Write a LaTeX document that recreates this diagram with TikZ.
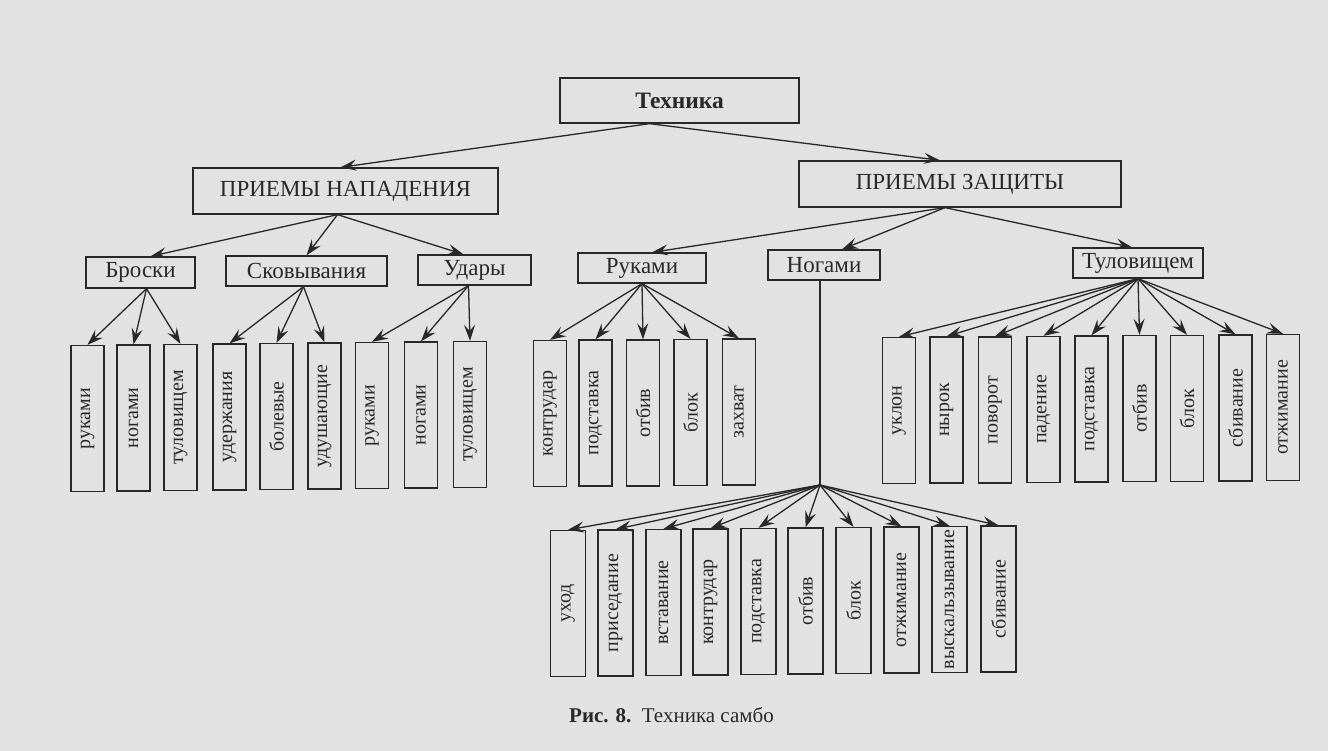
\documentclass[tikz,border=0pt]{standalone}
\usepackage{fontspec}
\setmainfont{Liberation Serif}
\usetikzlibrary{arrows.meta}
\definecolor{paper}{RGB}{226,226,226}
\definecolor{ink}{RGB}{40,40,40}
\tikzset{
  box/.style={draw=ink, line width=1.3pt, rectangle, inner sep=0pt, fill=paper, text=ink},
  topbox/.style={box, font=\fontsize{23.5}{26}\selectfont\bfseries},
  midbox/.style={box, font=\fontsize{23}{26}\selectfont},
  subbox/.style={box, font=\fontsize{23}{26}\selectfont},
  leafbox/.style={box, minimum width=33pt, minimum height=146pt, font=\fontsize{20}{23}\selectfont},
  arr/.style={draw=ink, line width=1.3pt, -{Stealth[length=16pt,width=11pt,inset=6pt]}},
  ln/.style={draw=ink, line width=1.3pt}
}
\begin{document}
\begin{tikzpicture}[x=1pt,y=-1pt]
\useasboundingbox (0,0) rectangle (1328,751);
\fill[paper] (0,0) rectangle (1328,751);

% top
\node[topbox, minimum width=239pt, minimum height=45pt] (tech) at (679.5,100.5) {Техника};
\node[midbox, minimum width=305pt, minimum height=46pt] (nap) at (345.5,191) {ПРИЕМЫ НАПАДЕНИЯ};
\node[midbox, minimum width=322pt, minimum height=46pt] (zas) at (960,184) {ПРИЕМЫ ЗАЩИТЫ};

% level 3
\node[subbox, minimum width=109pt, minimum height=31pt] (bro) at (140.5,272.5) {Броски};
\node[subbox, minimum width=161pt, minimum height=30pt] (sko) at (306.5,271) {Сковывания};
\node[subbox, minimum width=113pt, minimum height=30pt] (uda) at (474.5,270) {Удары};
\node[subbox, minimum width=128pt, minimum height=30pt] (ruk) at (642,268) {Руками};
\node[subbox, minimum width=112pt, minimum height=30pt] (nog) at (824,265) {Ногами};
\node[subbox, minimum width=130pt, minimum height=30pt] (tul) at (1138,263) {Туловищем};

\coordinate (hub) at (820,485);

% arrows top levels
\draw[arr] ([xshift=-30pt]tech.south) -- ([xshift=-5pt]nap.north);
\draw[arr] ([xshift=-30pt]tech.south) -- ([xshift=-20pt]zas.north);
\draw[arr] ([xshift=-8pt]nap.south) -- ([xshift=10pt]bro.north);
\draw[arr] ([xshift=-8pt]nap.south) -- (sko.north);
\draw[arr] ([xshift=-8pt]nap.south) -- ([xshift=-11pt]uda.north);
\draw[arr] ([xshift=-15pt]zas.south) -- ([xshift=10pt]ruk.north);
\draw[arr] ([xshift=-15pt]zas.south) -- ([xshift=18pt]nog.north);
\draw[arr] ([xshift=-15pt]zas.south) -- ([xshift=-6pt]tul.north);
\draw[ln] ([xshift=-4pt]nog.south) -- (hub);

% group A: Броски
\foreach \x/\y/\t [count=\i] in {87.5/418.5/руками, 133.5/418/ногами, 180.5/417.5/туловищем}{
  \node[leafbox] (a\i) at (\x,\y) {\rotatebox{90}{\t}};
  \draw[arr] ([xshift=6pt]bro.south) -- (a\i.north);
}
% group B: Сковывания
\foreach \x/\y/\t [count=\i] in {229.5/417/удержания, 276.5/416.5/болевые, 324.5/416/удушающие}{
  \node[leafbox] (b\i) at (\x,\y) {\rotatebox{90}{\t}};
  \draw[arr] ([xshift=-3pt]sko.south) -- (b\i.north);
}
% group C: Удары
\foreach \x/\y/\t [count=\i] in {372/415.5/руками, 421/415/ногами, 470/414.5/туловищем}{
  \node[leafbox] (c\i) at (\x,\y) {\rotatebox{90}{\t}};
  \draw[arr] ([xshift=-6pt]uda.south) -- (c\i.north);
}
% group D: Руками
\foreach \x/\y/\t [count=\i] in {550/413.5/контрудар, 595.5/413/подставка, 643/413/отбив, 690.5/412.5/блок, 739/412/захват}{
  \node[leafbox] (d\i) at (\x,\y) {\rotatebox{90}{\t}};
  \draw[arr] (ruk.south) -- (d\i.north);
}
% group E: Туловищем
\foreach \x/\y/\t [count=\i] in {899/410.5/уклон, 946.5/410/нырок, 995/410/поворот, 1043.5/409.5/падение, 1091.5/409/подставка, 1139.5/408.5/отбив, 1187/408.5/блок, 1235.5/408/сбивание, 1283/407.5/отжимание}{
  \node[leafbox] (e\i) at (\x,\y) {\rotatebox{90}{\t}};
  \draw[arr] (tul.south) -- (e\i.north);
}
% group F: Ногами
\foreach \x/\y/\t [count=\i] in {568/603.5/уход, 615.5/603/приседание, 663.5/602.5/вставание, 710.5/602/контрудар, 758.5/601.5/подставка, 805.5/601/отбив, 853.5/600.5/блок, 901.5/600/отжимание, 949.5/599.5/выскальзывание, 998.5/599/сбивание}{
  \node[leafbox, minimum width=35pt] (f\i) at (\x,\y) {\rotatebox{90}{\t}};
  \draw[arr] (hub) -- (f\i.north);
}

% caption
\node[anchor=west, text=ink, font=\fontsize{21}{24}\selectfont, inner sep=0pt] (cap) at (569,715) {\textbf{Рис. 8.}\enspace Техника самбо};
\end{tikzpicture}
\end{document}
